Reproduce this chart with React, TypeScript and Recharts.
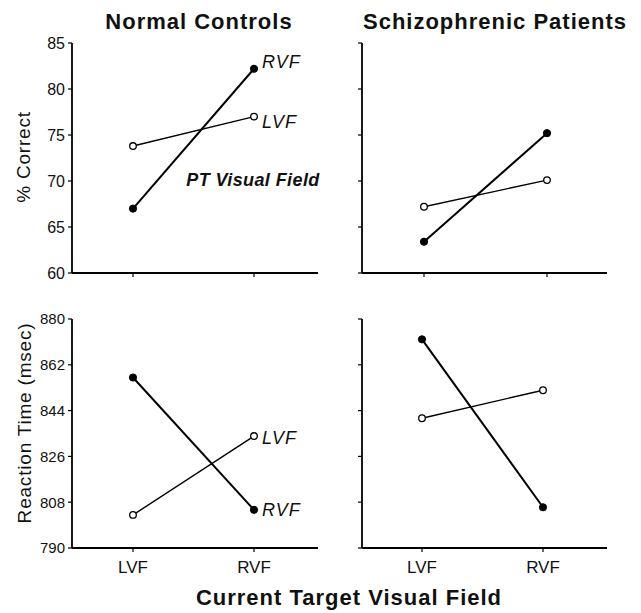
import React from "react";
import { LineChart, Line, XAxis, YAxis } from "recharts";

const categories = ["LVF", "RVF"];

// % correct, by PT visual field (RVF = filled, LVF = open)
const controlsRvfCorrect = [67.0, 82.2];
const controlsLvfCorrect = [73.8, 77.0];
const patientsRvfCorrect = [63.4, 75.2];
const patientsLvfCorrect = [67.2, 70.1];

// reaction time in msec
const controlsRvfRt = [857, 805];
const controlsLvfRt = [803, 834];
const patientsRvfRt = [872, 806];
const patientsLvfRt = [841, 852];

const correctTicks = [60, 65, 70, 75, 80, 85];
const rtTicks = [790, 808, 826, 844, 862, 880];

const FONT = "'Liberation Sans', Arial, Helvetica, sans-serif";
const INK = "#111";

const rows = (rvf: number[], lvf: number[]) =>
  categories.map((c, i) => ({ field: c, rvf: rvf[i], lvf: lvf[i] }));

// keeps the tick marks but drops the tick text
const hiddenTick = { fill: "none", fontSize: 1 };

type PanelProps = {
  left: number;
  top: number;
  width: number;
  height: number;
  marginTop: number;
  marginRight: number;
  yWidth: number;
  xHeight: number;
  padLeft: number;
  padRight: number;
  data: { field: string; rvf: number; lvf: number }[];
  ticks: number[];
  yLabels: boolean;
  xLabels: boolean;
  yFont: number;
  tags?: { rvf: number; lvf: number };
};

function endTag(text: string, dy: number) {
  return (p: any) => {
    if (p.index !== categories.length - 1) return null;
    return (
      <text
        key={text}
        x={p.x + 8}
        y={p.y + dy}
        fontFamily={FONT}
        fontSize={18}
        fontStyle="italic"
        letterSpacing={1}
        fill={INK}
        dominantBaseline="central"
      >
        {text}
      </text>
    );
  };
}

function Panel(props: PanelProps) {
  const { data, ticks } = props;
  return (
    <div style={{ position: "absolute", left: props.left, top: props.top }}>
      <LineChart
        width={props.width}
        height={props.height}
        data={data}
        margin={{ top: props.marginTop, right: props.marginRight, bottom: 0, left: 0 }}
      >
        <XAxis
          dataKey="field"
          type="category"
          height={props.xHeight}
          padding={{ left: props.padLeft, right: props.padRight }}
          axisLine={{ stroke: "#000", strokeWidth: 1.8 }}
          tickLine={{ stroke: "#000", strokeWidth: 1.2 }}
          tickSize={4}
          tickMargin={9}
          interval={0}
          tick={props.xLabels ? { fill: INK, fontSize: 17, fontFamily: FONT } : hiddenTick}
        />
        <YAxis
          type="number"
          width={props.yWidth}
          domain={[ticks[0], ticks[ticks.length - 1]]}
          ticks={ticks}
          allowDataOverflow
          axisLine={{ stroke: "#000", strokeWidth: 1.8 }}
          tickLine={{ stroke: "#000", strokeWidth: 1.2 }}
          tickSize={4}
          tickMargin={3}
          tick={props.yLabels ? { fill: INK, fontSize: props.yFont, fontFamily: FONT } : hiddenTick}
        />
        <Line
          dataKey="lvf"
          stroke="#000"
          strokeWidth={1.4}
          dot={{ r: 3.3, fill: "#fff", stroke: "#000", strokeWidth: 1.3 }}
          activeDot={false}
          isAnimationActive={false}
          label={props.tags ? endTag("LVF", props.tags.lvf) : false}
        />
        <Line
          dataKey="rvf"
          stroke="#000"
          strokeWidth={2}
          dot={{ r: 3.6, fill: "#000", stroke: "#000", strokeWidth: 1 }}
          activeDot={false}
          isAnimationActive={false}
          label={props.tags ? endTag("RVF", props.tags.rvf) : false}
        />
      </LineChart>
    </div>
  );
}

export default function App() {
  return (
    <div
      style={{
        position: "absolute",
        left: 0,
        top: 0,
        width: 641,
        height: 613,
        background: "#fff",
        fontFamily: FONT,
        overflow: "hidden",
      }}
    >
      <Panel
        left={0}
        top={0}
        width={330}
        height={290}
        marginTop={43}
        marginRight={12}
        yWidth={72}
        xHeight={17}
        padLeft={61}
        padRight={64}
        data={rows(controlsRvfCorrect, controlsLvfCorrect)}
        ticks={correctTicks}
        yLabels
        xLabels={false}
        yFont={16}
        tags={{ rvf: -7, lvf: 5 }}
      />
      <Panel
        left={320}
        top={0}
        width={321}
        height={290}
        marginTop={43}
        marginRight={34}
        yWidth={42}
        xHeight={17}
        padLeft={62}
        padRight={60}
        data={rows(patientsRvfCorrect, patientsLvfCorrect)}
        ticks={correctTicks}
        yLabels={false}
        xLabels={false}
        yFont={16}
      />
      <Panel
        left={0}
        top={290}
        width={330}
        height={323}
        marginTop={29}
        marginRight={12}
        yWidth={72}
        xHeight={65}
        padLeft={61}
        padRight={64}
        data={rows(controlsRvfRt, controlsLvfRt)}
        ticks={rtTicks}
        yLabels
        xLabels
        yFont={15}
        tags={{ rvf: 0, lvf: 2 }}
      />
      <Panel
        left={320}
        top={290}
        width={321}
        height={323}
        marginTop={29}
        marginRight={34}
        yWidth={42}
        xHeight={65}
        padLeft={60}
        padRight={64}
        data={rows(patientsRvfRt, patientsLvfRt)}
        ticks={rtTicks}
        yLabels={false}
        xLabels
        yFont={15}
      />
      <svg
        width={641}
        height={613}
        style={{ position: "absolute", left: 0, top: 0, pointerEvents: "none" }}
      >
        <g fontFamily={FONT} fill={INK}>
          <text x={199} y={21} fontSize={22} fontWeight="bold" letterSpacing={1} textAnchor="middle" dominantBaseline="central">
            Normal Controls
          </text>
          <text x={495} y={21} fontSize={22} fontWeight="bold" letterSpacing={1} textAnchor="middle" dominantBaseline="central">
            Schizophrenic Patients
          </text>
          <text x={349} y={597} fontSize={22} fontWeight="bold" letterSpacing={1} textAnchor="middle" dominantBaseline="central">
            Current Target Visual Field
          </text>
          <text x={253} y={180} fontSize={18} fontWeight="bold" fontStyle="italic" letterSpacing={0.4} textAnchor="middle" dominantBaseline="central">
            PT Visual Field
          </text>
          <text
            x={23}
            y={157}
            fontSize={19}
            letterSpacing={0.8}
            textAnchor="middle"
            dominantBaseline="central"
            transform="rotate(-90 23 157)"
          >
            % Correct
          </text>
          <text
            x={24}
            y={423}
            fontSize={19}
            letterSpacing={0.8}
            textAnchor="middle"
            dominantBaseline="central"
            transform="rotate(-90 24 423)"
          >
            Reaction Time (msec)
          </text>
        </g>
      </svg>
    </div>
  );
}
